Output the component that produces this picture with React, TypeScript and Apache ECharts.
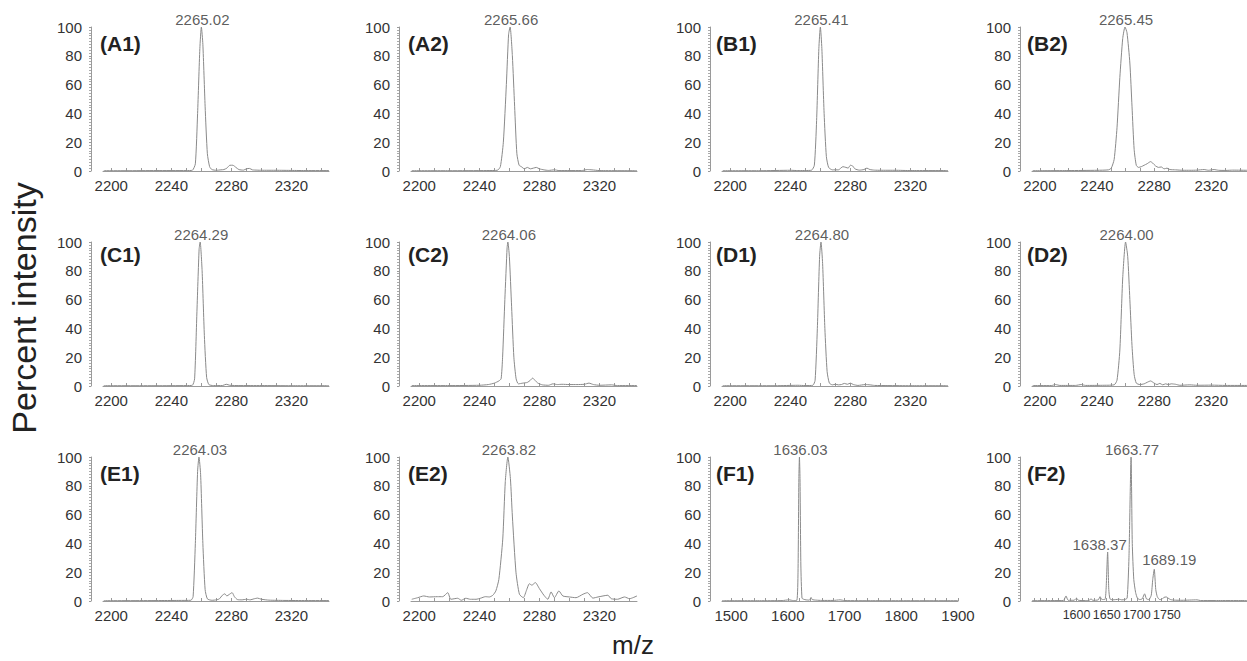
import React, { useEffect, useRef } from "react";
import * as echarts from "echarts";

// ---------- DATA ----------
const panelNames = ["(A1)", "(A2)", "(B1)", "(B2)", "(C1)", "(C2)", "(D1)", "(D2)", "(E1)", "(E2)", "(F1)", "(F2)"];

const yTickLabels = [0, 20, 40, 60, 80, 100];
const mzLabels = [2200, 2240, 2280, 2320];
const mzTicks = [2200, 2210, 2220, 2230, 2240, 2250, 2260, 2270, 2280, 2290, 2300, 2310, 2320, 2330, 2340];
const f1Labels = [1500, 1600, 1700, 1800, 1900];
const f1Ticks = [1500, 1520, 1540, 1560, 1580, 1600, 1620, 1640, 1660, 1680, 1700, 1720, 1740, 1760, 1780, 1800, 1820, 1840, 1860, 1880, 1900];
const f2Labels = [1600, 1650, 1700, 1750];
const f2Ticks = [1530, 1540, 1550, 1560, 1570, 1580, 1590, 1600, 1610, 1620, 1630, 1640, 1650, 1660, 1670, 1680, 1690, 1700, 1710, 1720, 1730, 1740, 1750, 1760, 1770, 1780];

const specA1 = [[2195,0.2],[2210,0.2],[2230,0.3],[2250,0.3],[2254,0.5],[2256,5],[2257.5,40],[2259,85],[2260,100],[2261,88],[2262.5,45],[2264,12],[2265.5,3],[2267,1],[2270,0.5],[2273,0.8],[2275,1],[2277,2],[2279,4],[2281,4],[2283,2.5],[2285,1],[2288,0.6],[2290,1.5],[2292,1.8],[2294,0.8],[2297,0.6],[2300,0.5],[2310,0.5],[2320,0.4],[2330,0.3],[2345,0.3]];
const specA2 = [[2195,0.2],[2220,0.2],[2245,0.3],[2252,0.5],[2254,3],[2256,20],[2258,60],[2259.5,95],[2260.5,100],[2262,80],[2263.5,45],[2265,12],[2266.5,4],[2268,3],[2270,1.5],[2272,2.5],[2274,1.5],[2276,2],[2278,2.5],[2280,1.5],[2283,0.8],[2286,0.4],[2290,0.8],[2293,0.3],[2300,0.3],[2308,0.3],[2312,1],[2315,0.8],[2320,0.3],[2345,0.2]];
const specB1 = [[2195,0.2],[2220,0.2],[2240,0.5],[2245,0.3],[2254,0.5],[2256,4],[2257.5,35],[2259,85],[2260,100],[2261,85],[2262.5,40],[2264,10],[2265.5,2.5],[2268,0.8],[2272,0.8],[2275,3],[2277,2.5],[2278.5,2],[2280,4],[2281.5,3.5],[2283,1.5],[2286,0.6],[2289,1],[2291,2],[2293,1],[2296,0.6],[2300,0.5],[2310,0.5],[2320,0.3],[2345,0.3]];
const specB2 = [[2195,0.2],[2220,0.3],[2240,0.5],[2248,0.8],[2250,2],[2252,8],[2254,30],[2256,65],[2258,92],[2259.6,100],[2261,96],[2263,75],[2264.5,45],[2266,15],[2267.5,4],[2269,2.5],[2271,3],[2273,4],[2275,5],[2277.5,6.5],[2279,5.5],[2281,3.5],[2283,2.5],[2285,2.8],[2287,1.5],[2289,2],[2291,1],[2295,0.8],[2300,0.5],[2305,0.5],[2310,0.6],[2315,1],[2318,0.5],[2322,1],[2325,0.5],[2330,0.4],[2335,0.6],[2345,0.5]];
const specC1 = [[2195,0.2],[2230,0.2],[2250,0.3],[2254,0.5],[2255.5,5],[2257,50],[2258.5,95],[2259.2,100],[2260.5,80],[2262,35],[2263.5,6],[2265,1],[2268,0.3],[2274,0.3],[2276.5,1.2],[2279,0.5],[2285,0.3],[2300,0.3],[2320,0.2],[2345,0.2]];
const specC2 = [[2195,0.3],[2220,0.3],[2240,0.5],[2246,1],[2250,2],[2253,3.5],[2254.5,5],[2255.5,20],[2257,60],[2258.5,96],[2259,100],[2260,90],[2261.5,55],[2263,20],[2264.5,5],[2266,1.5],[2269,2],[2272,2.5],[2274,4],[2275.5,5.5],[2277,4],[2279,2],[2282,0.8],[2286,0.5],[2289,1.5],[2292,1],[2295,1.2],[2300,1],[2305,1],[2310,1.2],[2313,2],[2316,1],[2320,0.5],[2328,0.8],[2332,0.3],[2345,0.3]];
const specD1 = [[2195,0.2],[2230,0.2],[2245,0.5],[2250,0.3],[2255,0.5],[2256.5,4],[2258,40],[2259.5,90],[2260.4,100],[2261.5,85],[2263,40],[2264.5,10],[2266,2],[2268,0.8],[2270,1.2],[2272,0.8],[2274,1],[2276,1.8],[2278,1.2],[2280,2],[2282,1],[2285,0.4],[2290,1],[2293,0.8],[2296,0.4],[2305,0.3],[2320,0.2],[2345,0.2]];
const specD2 = [[2195,0.3],[2208,0.3],[2211,1],[2214,0.4],[2225,0.4],[2229,1],[2232,0.4],[2245,0.5],[2252,0.8],[2254,4],[2256,25],[2258,75],[2260,100],[2261.5,90],[2263,60],[2264.5,28],[2266,8],[2267.5,2],[2270,1],[2273,1.5],[2275,2.5],[2277.5,3.5],[2280,2],[2282,1],[2284,1.8],[2286,0.8],[2288,1.5],[2290,1],[2292,1.5],[2295,1.2],[2298,0.5],[2305,0.8],[2310,0.5],[2320,0.6],[2330,0.4],[2345,0.4]];
const specE1 = [[2195,0.2],[2230,0.3],[2245,0.4],[2253,0.5],[2254.5,3],[2256,40],[2257.5,90],[2258.4,100],[2259.5,88],[2261,40],[2262.5,8],[2264,1.5],[2267,0.5],[2270,0.8],[2272,1.5],[2274,4],[2275.6,5],[2277,3.5],[2278.5,4.5],[2280.5,5.8],[2282,3],[2284,1],[2287,0.8],[2290,1.2],[2292.5,0.8],[2295,1.5],[2297.5,2],[2300,1.2],[2305,0.6],[2315,0.4],[2330,0.3],[2345,0.3]];
const specE2 = [[2195,1.2],[2199,2.3],[2203,3.5],[2206.7,2.8],[2212,3],[2215.6,3],[2219,5.8],[2221,1.2],[2225.6,1.9],[2228,0.5],[2231,1.9],[2234,1.2],[2237.8,1.2],[2241,2],[2244,3],[2246.7,2.8],[2249,4],[2251,7],[2253,15],[2255.6,43],[2257.3,83],[2259,100],[2260.7,85],[2262,59],[2264.4,20],[2266.7,4.7],[2269.3,2.3],[2271.6,8],[2273.3,12],[2275,11],[2277.3,12.8],[2280,8.6],[2283,4],[2285.6,1.2],[2287.8,6.3],[2290,2.3],[2293,7],[2295.6,3.5],[2300,2.8],[2304.4,2.3],[2309,4.7],[2312,5.8],[2315.6,2],[2319,2.8],[2325.6,4],[2327.8,1.6],[2332,1.2],[2336.7,2.8],[2340,1.6],[2345,3.5]];
const specF1 = [[1484,0.2],[1550,0.2],[1590,0.3],[1602,0.8],[1610,0.3],[1616,0.5],[1618,20],[1619.5,85],[1620.5,100],[1621.5,85],[1623,25],[1625,2],[1628,1.2],[1632,0.8],[1638,0.6],[1641,2.5],[1643,1],[1650,0.6],[1660,0.4],[1680,0.4],[1692,0.8],[1700,0.3],[1750,0.2],[1800,0.2],[1900,0.2]];
const specF2 = [[1526,0.2],[1560,0.3],[1578,0.3],[1582.5,3.5],[1586,0.5],[1596,0.5],[1600,2],[1603,0.5],[1615,0.3],[1621,0.5],[1624,1.5],[1627,0.5],[1636,0.8],[1639,3],[1642,1],[1647,1],[1649,8],[1651.6,34],[1653.5,8],[1655.5,1.5],[1660,0.8],[1665,1],[1671,1.2],[1675,0.8],[1680,1],[1684,2],[1687,30],[1690.5,100],[1692.5,40],[1695,15],[1698,6],[1701,2],[1705,1],[1709,1.5],[1713,5],[1716,1.5],[1720,1],[1724,4],[1726.5,15],[1729,22],[1731.5,8],[1734,3],[1738,1],[1741,1],[1745,2.5],[1749,2.8],[1752,2],[1756,1],[1762,0.6],[1775,0.5],[1800,0.8],[1806,0.3],[1830,0.3],[1883,0.3]];

const spectra = [specA1, specA2, specB1, specB2, specC1, specC2, specD1, specD2, specE1, specE2, specF1, specF2];

// peak labels: [m/z position, intensity, text]
const peakA1 = [[2260, 100, "2265.02"]];
const peakA2 = [[2260.5, 100, "2265.66"]];
const peakB1 = [[2260, 100, "2265.41"]];
const peakB2 = [[2259.6, 100, "2265.45"]];
const peakC1 = [[2259.2, 100, "2264.29"]];
const peakC2 = [[2259, 100, "2264.06"]];
const peakD1 = [[2260.4, 100, "2264.80"]];
const peakD2 = [[2260, 100, "2264.00"]];
const peakE1 = [[2258.4, 100, "2264.03"]];
const peakE2 = [[2259, 100, "2263.82"]];
const peakF1 = [[1620.5, 100, "1636.03"]];
const peakF2 = [[1651.6, 34, "1638.37"], [1690.5, 100, "1663.77"], [1729, 22, "1689.19"]];
const peaks = [peakA1, peakA2, peakB1, peakB2, peakC1, peakC2, peakD1, peakD2, peakE1, peakE2, peakF1, peakF2];

// ---------- LAYOUT ----------
const FONT = '"Liberation Sans", Arial, sans-serif';
const colLeft = [103, 411, 722, 1032];
const rowTop = [27, 242, 457];
const plotH = 144;
const nameX = [100, 408, 716, 1027];
const nameDy = [16, 12, 16];

function axisCfg(i: number) {
  if (i === 10) return { min: 1484, max: 1900, width: 236, labels: f1Labels, ticks: f1Ticks, fs: 15 };
  if (i === 11) return { min: 1526, max: 1883, width: 226, labels: f2Labels, ticks: f2Ticks, fs: 12.5 };
  return { min: 2194.5, max: 2345, width: 226, labels: mzLabels, ticks: mzTicks, fs: 15 };
}

const labelOffsets: Record<string, number[]> = { "1638.37": [-8, 0], "1689.19": [15, -2] };

function buildOption() {
  const grid: any[] = [];
  const xAxis: any[] = [];
  const yAxis: any[] = [];
  const series: any[] = [];
  const graphic: any[] = [];
  for (let i = 0; i < 12; i++) {
    const r = Math.floor(i / 4);
    const c = i % 4;
    const cfg = axisCfg(i);
    grid.push({ left: colLeft[c], top: rowTop[r], width: cfg.width, height: plotH });
    xAxis.push({
      type: "value",
      gridIndex: i,
      min: cfg.min,
      max: cfg.max,
      axisLine: { show: true, onZero: false, lineStyle: { color: "#9a9a9a", width: 1 } },
      axisTick: { show: true, inside: true, length: 3, customValues: cfg.ticks, lineStyle: { color: "#9a9a9a" } },
      axisLabel: {
        customValues: cfg.labels,
        hideOverlap: false,
        margin: 7,
        fontSize: cfg.fs,
        color: "#333",
        fontFamily: FONT,
        formatter: (v: number) => String(v),
      },
      splitLine: { show: false },
    });
    yAxis.push({
      type: "value",
      gridIndex: i,
      min: 0,
      max: 100,
      interval: 20,
      offset: 12,
      axisLine: { show: true, lineStyle: { color: "#9a9a9a", width: 1 } },
      axisTick: { show: true, length: 2, lineStyle: { color: "#9a9a9a" } },
      minorTick: { show: true, splitNumber: 10, length: 2, lineStyle: { color: "#aaa" } },
      axisLabel: { margin: 9, fontSize: 15, color: "#333", fontFamily: FONT, formatter: (v: number) => String(v) },
      splitLine: { show: false },
    });
    series.push({
      type: "line",
      xAxisIndex: i,
      yAxisIndex: i,
      data: spectra[i],
      symbol: "none",
      smooth: 0.2,
      lineStyle: { color: "#8a8a8a", width: 1 },
      clip: true,
      z: 2,
    });
    series.push({
      type: "scatter",
      xAxisIndex: i,
      yAxisIndex: i,
      symbolSize: 1,
      itemStyle: { color: "rgba(0,0,0,0)" },
      data: peaks[i].map((p) => ({
        value: [p[0], p[1]],
        label: {
          show: true,
          position: "top",
          distance: 0,
          offset: labelOffsets[p[2] as string] || [1, 0],
          formatter: p[2],
          fontSize: 15,
          color: "#333",
          fontFamily: FONT,
        },
      })),
      z: 3,
    });
    graphic.push({
      type: "text",
      x: nameX[c],
      y: rowTop[r] + nameDy[r],
      style: { text: panelNames[i], font: `bold 21px ${FONT}`, fill: "#222", verticalAlign: "middle", align: "left" },
    });
  }
  graphic.push({
    type: "text",
    x: 24,
    y: 308,
    rotation: Math.PI / 2,
    style: { text: "Percent intensity", font: `34px ${FONT}`, fill: "#222", align: "center", verticalAlign: "middle" },
  });
  graphic.push({
    type: "text",
    x: 633,
    y: 645,
    style: { text: "m/z", font: `26px ${FONT}`, fill: "#222", align: "center", verticalAlign: "middle" },
  });
  return { animation: false, backgroundColor: "#fff", grid, xAxis, yAxis, series, graphic };
}

export default function App() {
  const ref = useRef<HTMLDivElement>(null);
  useEffect(() => {
    if (!ref.current) return;
    const chart = echarts.init(ref.current, null, { renderer: "svg" });
    chart.setOption(buildOption() as any);
    return () => chart.dispose();
  }, []);
  return <div ref={ref} style={{ position: "fixed", left: 0, top: 0, width: 1247, height: 661, background: "#fff" }} />;
}
